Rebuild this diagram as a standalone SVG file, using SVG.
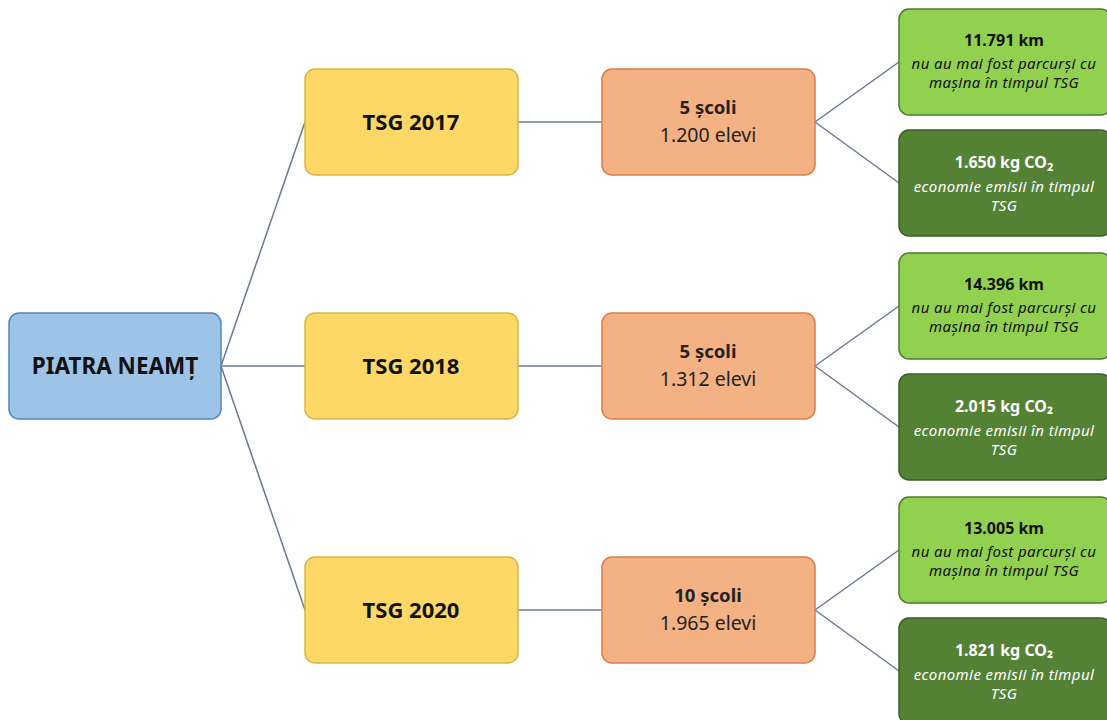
<svg xmlns="http://www.w3.org/2000/svg" width="1107" height="720" viewBox="0 0 1107 720">
<style>
text{font-family:"Noto Sans","Liberation Sans",sans-serif;text-anchor:middle}
.root{fill:#9DC3E6;stroke:#4F86C0;stroke-width:1.5}
.tsg{fill:#FDD866;stroke:#D9B548;stroke-width:1.5}
.sc{fill:#F4B183;stroke:#D9804A;stroke-width:1.5}
.lg{fill:#92D050;stroke:#4E7A2C;stroke-width:1.5}
.dg{fill:#548235;stroke:#3B5E25;stroke-width:1.5}
.big{font-size:22.5px;font-weight:bold;fill:#111}
.tg{font-size:22px;font-weight:bold;fill:#111}
.b17{font-size:18.5px;font-weight:bold;fill:#222}
.r17{font-size:19.5px;fill:#222}
.b14{font-size:16px;font-weight:bold;fill:#111}
.i14{font-size:15px;font-style:italic;fill:#111;letter-spacing:0.4px}
.wb{font-size:16px;font-weight:bold;fill:#fff}
.wi{font-size:15px;font-style:italic;fill:#fff;letter-spacing:0.4px}
.con line{stroke:#6A7890;stroke-width:1.5}
</style>
<g class="con" id="connectors">
<line x1="221" y1="366" x2="305" y2="122"/>
<line x1="221" y1="366" x2="305" y2="366"/>
<line x1="221" y1="366" x2="305" y2="610"/>
<line x1="518" y1="122" x2="602" y2="122"/>
<line x1="518" y1="366" x2="602" y2="366"/>
<line x1="518" y1="610" x2="602" y2="610"/>
<line x1="815" y1="122" x2="899" y2="62"/>
<line x1="815" y1="122" x2="899" y2="183"/>
<line x1="815" y1="366" x2="899" y2="306"/>
<line x1="815" y1="366" x2="899" y2="427"/>
<line x1="815" y1="610" x2="899" y2="550"/>
<line x1="815" y1="610" x2="899" y2="671"/>
</g>
<g id="piatra"><rect class="root" x="9" y="313" width="212" height="106" rx="10"/><text class="big" x="115" y="374">PIATRA NEAMȚ</text></g>
<g id="tsg2017"><rect class="tsg" x="305" y="69" width="213" height="106" rx="10"/><text class="tg" x="411" y="130">TSG 2017</text></g>
<g id="tsg2018"><rect class="tsg" x="305" y="313" width="213" height="106" rx="10"/><text class="tg" x="411" y="374">TSG 2018</text></g>
<g id="tsg2020"><rect class="tsg" x="305" y="557" width="213" height="106" rx="10"/><text class="tg" x="411" y="618">TSG 2020</text></g>
<g id="sc2017"><rect class="sc" x="602" y="69" width="213" height="106" rx="10"/><text class="b17" x="708" y="114">5 școli</text><text class="r17" x="708" y="142">1.200 elevi</text></g>
<g id="sc2018"><rect class="sc" x="602" y="313" width="213" height="106" rx="10"/><text class="b17" x="708" y="358">5 școli</text><text class="r17" x="708" y="386">1.312 elevi</text></g>
<g id="sc2020"><rect class="sc" x="602" y="557" width="213" height="106" rx="10"/><text class="b17" x="708" y="602">10 școli</text><text class="r17" x="708" y="630">1.965 elevi</text></g>
<g id="km2017"><rect class="lg" x="899" y="9" width="212" height="106" rx="10"/><text class="b14" x="1004" y="46">11.791 km</text><text class="i14" x="1004" y="69">nu au mai fost parcurși cu</text><text class="i14" x="1004" y="88">mașina în timpul TSG</text></g>
<g id="co2017"><rect class="dg" x="899" y="130" width="212" height="106" rx="10"/><text class="wb" x="1004" y="168">1.650 kg CO<tspan font-size="11" dy="3">2</tspan></text><text class="wi" x="1004" y="192">economie emisii în timpul</text><text class="wi" x="1004" y="211">TSG</text></g>
<g id="km2018"><rect class="lg" x="899" y="253" width="212" height="106" rx="10"/><text class="b14" x="1004" y="290">14.396 km</text><text class="i14" x="1004" y="313">nu au mai fost parcurși cu</text><text class="i14" x="1004" y="332">mașina în timpul TSG</text></g>
<g id="co2018"><rect class="dg" x="899" y="374" width="212" height="106" rx="10"/><text class="wb" x="1004" y="412">2.015 kg CO₂</text><text class="wi" x="1004" y="436">economie emisii în timpul</text><text class="wi" x="1004" y="455">TSG</text></g>
<g id="km2020"><rect class="lg" x="899" y="497" width="212" height="106" rx="10"/><text class="b14" x="1004" y="534">13.005 km</text><text class="i14" x="1004" y="557">nu au mai fost parcurși cu</text><text class="i14" x="1004" y="576">mașina în timpul TSG</text></g>
<g id="co2020"><rect class="dg" x="899" y="618" width="212" height="106" rx="10"/><text class="wb" x="1004" y="656">1.821 kg CO₂</text><text class="wi" x="1004" y="680">economie emisii în timpul</text><text class="wi" x="1004" y="699">TSG</text></g>
</svg>
